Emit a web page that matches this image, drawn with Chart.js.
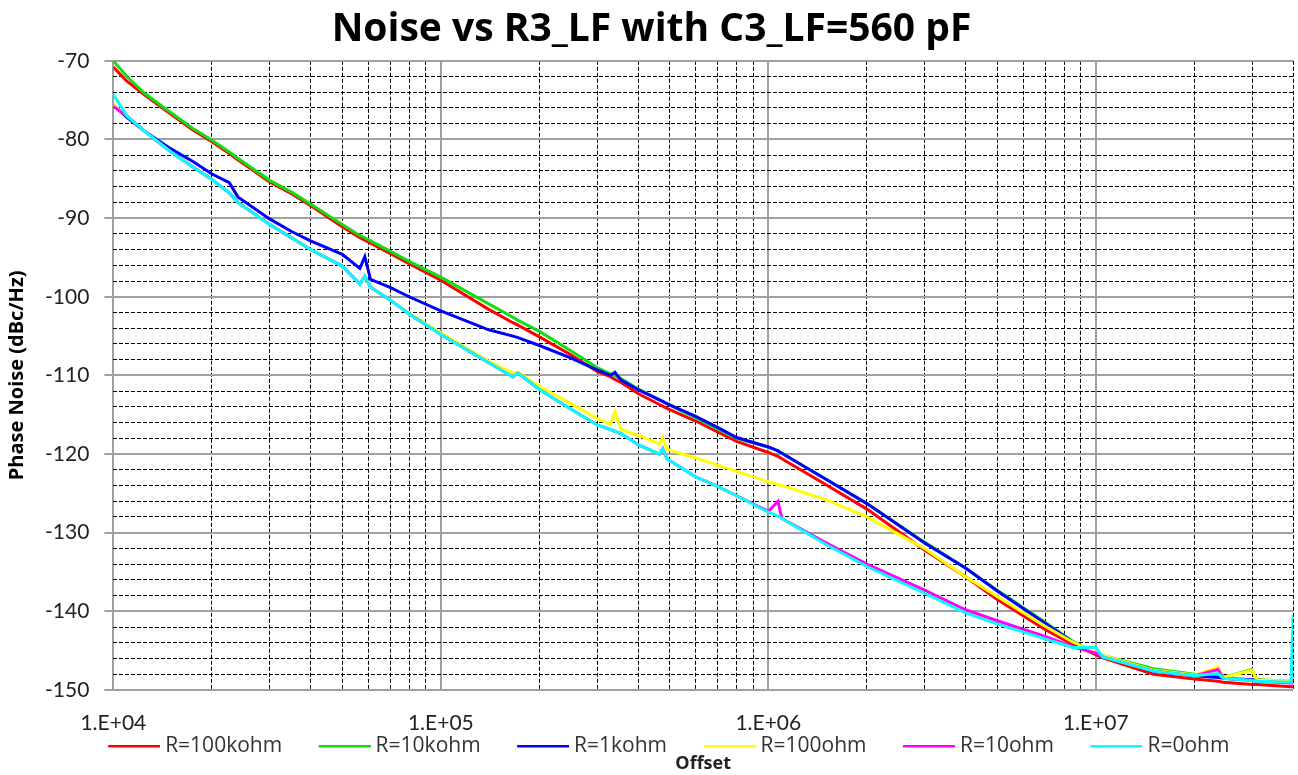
<!DOCTYPE html>
<html>
<head>
<meta charset="utf-8">
<title>Noise vs R3_LF</title>
<script src="https://cdn.jsdelivr.net/npm/chart.js@4.4.1/dist/chart.umd.min.js"></script>
<style>
  html, body { margin: 0; padding: 0; background: #fff; }
  #wrap { width: 1298px; height: 775px; }
</style>
</head>
<body>
<div id="wrap"><canvas id="noiseChart"></canvas></div>
<script>
// offset frequencies (Hz), shared by all traces
const offsets = [
  1e4, 1.1e4, 1.25e4, 1.5e4, 1.75e4, 2e4, 2.26e4, 2.4e4, 3e4, 3.5e4,
  4e4, 5e4, 5.66e4, 5.86e4, 6.1e4, 7e4, 8e4, 1e5, 1.4e5, 1.66e5,
  1.72e5, 2e5, 2.5e5, 3e5, 3.3e5, 3.4e5, 3.55e5, 4e5, 4.65e5, 4.76e5,
  4.9e5, 6e5, 7e5, 8e5, 1e6, 1.07e6, 1.1e6, 1.5e6, 2e6, 3e6,
  4e6, 5e6, 7e6, 8.5e6, 1e7, 1.05e7, 1.5e7, 2e7, 2.36e7, 2.45e7,
  3e7, 3.1e7, 3.95e7, 4e7
];

// phase noise (dBc/Hz)
const r100k = [
  -70.8, -72.6, -74.4, -76.8, -78.8, -80.3, -81.8, -82.6, -85.4, -86.9,
  -88.4, -91.1, -92.5, -92.8, -93.2, -94.5, -95.8, -97.9, -101.6, -103.3,
  -103.6, -105.1, -107.4, -109.5, -110.2, -110.5, -110.9, -112.3, -113.7, -113.9,
  -114.2, -115.8, -117.2, -118.4, -119.8, -120.3, -120.6, -123.9, -127.0, -132.2,
  -135.6, -138.5, -142.3, -144.2, -145.5, -145.9, -148.0, -148.6, -148.9, -149.0,
  -149.3, -149.3, -149.6, -149.6
];
const r10k = [
  -70.0, -72.0, -74.2, -76.6, -78.6, -80.1, -81.6, -82.4, -85.2, -86.7,
  -88.2, -90.8, -92.2, -92.5, -92.9, -94.2, -95.5, -97.5, -100.9, -102.6,
  -103.0, -104.4, -106.9, -109.0, -109.8, -110.0, -110.4, -111.7, -113.1, -113.3,
  -113.6, -115.4, -116.8, -118.0, -119.1, -119.6, -119.9, -123.2, -126.3, -131.2,
  -134.5, -137.3, -141.4, -143.8, -145.3, -145.6, -147.3, -148.0, -148.3, -148.4,
  -147.4, -148.7, -148.9, -148.9
];
const r1k = [
  -75.6, -77.2, -79.0, -81.2, -82.8, -84.4, -85.5, -87.3, -90.1, -91.7,
  -92.9, -94.6, -96.4, -94.9, -97.8, -98.8, -100.0, -101.8, -104.2, -105.0,
  -105.2, -106.2, -107.8, -109.3, -110.0, -109.6, -110.6, -111.8, -113.1, -113.3,
  -113.6, -115.2, -116.6, -117.9, -119.1, -119.6, -119.9, -123.2, -126.3, -131.3,
  -134.5, -137.4, -141.5, -143.9, -145.3, -145.7, -147.6, -148.2, -148.4, -148.5,
  -148.7, -148.7, -149.0, -149.0
];
const r100 = [
  -75.6, -77.0, -79.0, -81.6, -83.5, -85.1, -86.8, -88.0, -90.8, -92.5,
  -94.0, -96.1, -98.4, -97.4, -98.8, -100.4, -102.1, -104.6, -108.2, -109.7,
  -109.6, -111.4, -113.6, -115.5, -116.2, -114.6, -116.9, -117.6, -118.7, -117.9,
  -119.4, -120.5, -121.4, -122.2, -123.5, -123.9, -124.0, -125.8, -128.0, -132.0,
  -135.6, -138.1, -141.9, -143.9, -145.2, -145.6, -147.5, -148.1, -147.1, -148.4,
  -147.5, -148.7, -148.9, -148.9
];
const r10 = [
  -75.8, -77.0, -79.0, -81.6, -83.5, -85.1, -86.8, -88.0, -90.8, -92.5,
  -94.0, -96.1, -98.4, -97.4, -98.8, -100.4, -102.2, -104.8, -108.4, -110.2,
  -109.7, -111.8, -114.3, -116.3, -116.9, -117.1, -117.4, -118.8, -120.0, -119.3,
  -120.6, -122.9, -124.1, -125.3, -127.3, -126.0, -128.2, -131.3, -134.0, -137.3,
  -139.8, -141.2, -143.2, -144.5, -145.3, -145.8, -147.6, -148.2, -147.4, -148.5,
  -148.8, -148.9, -149.1, -149.1
];
const r0 = [
  -74.3, -77.0, -79.0, -81.6, -83.5, -85.1, -86.8, -88.0, -90.8, -92.5,
  -94.0, -96.1, -98.4, -97.4, -98.8, -100.4, -102.2, -104.8, -108.4, -110.2,
  -109.7, -111.8, -114.3, -116.3, -116.9, -117.1, -117.4, -118.8, -120.0, -119.3,
  -120.6, -122.9, -124.1, -125.3, -127.4, -127.9, -128.2, -131.5, -134.3, -137.7,
  -140.2, -141.6, -143.5, -144.6, -144.6, -145.8, -147.6, -148.2, -147.9, -148.5,
  -148.8, -148.9, -149.0, -140.5
];

const seriesNames = ['R=100kohm', 'R=10kohm', 'R=1kohm', 'R=100ohm', 'R=10ohm', 'R=0ohm'];
const seriesValues = [r100k, r10k, r1k, r100, r10, r0];
const seriesColors = ['#ff0000', '#11dd11', '#0000ff', '#ffff00', '#ff00ff', '#00ffff'];

// axis ticks
const xDecades = [1e4, 1e5, 1e6, 1e7];
const xTickLabels = ['1.E+04', '1.E+05', '1.E+06', '1.E+07'];
const xMax = 4e7;
const yMin = -150;
const yMax = -70;

const TICK_FONT = 'Lato, "Open Sans", sans-serif';
const TEXT_FONT = '"Open Sans", Lato, sans-serif';

// legend: 52px line sample, wide gap before it, small gap after it
const LEGEND_SLOT = 81;
const LEGEND_LINE = 52;

function isDecade(v) {
    const l = Math.log10(v);
    return Math.abs(l - Math.round(l)) < 1e-9;
}

function legendSwatch(color) {
    const c = document.createElement('canvas');
    c.width = LEGEND_SLOT + 11;
    c.height = 4;
    const g = c.getContext('2d');
    g.fillStyle = color;
    g.fillRect(c.width - LEGEND_LINE, 0, LEGEND_LINE, 3);
    return c;
}
const swatches = seriesColors.map(legendSwatch);

// grid positions for the log axis: 1..9 of every decade
const xGrid = [];
xDecades.forEach(d => {
    for (let m = 1; m <= 9; m++) {
        if (d * m <= xMax) xGrid.push(d * m);
    }
});

const datasets = seriesNames.map((name, i) => ({
    label: name,
    data: offsets.map((f, j) => ({ x: f, y: seriesValues[i][j] })),
    borderColor: seriesColors[i],
    backgroundColor: seriesColors[i],
    borderWidth: 3,
    pointRadius: 0,
    tension: 0,
    fill: false,
    order: seriesNames.length - i
}));

const ctx = document.getElementById('noiseChart');

new Chart(ctx, {
    type: 'line',
    data: { datasets: datasets },
    options: {
        responsive: true,
        maintainAspectRatio: false,
        animation: false,
        layout: { padding: { left: 5, right: 0, top: 0, bottom: 0 } },
        plugins: {
            title: {
                display: true,
                text: 'Noise vs R3_LF with C3_LF=560 pF',
                color: '#000',
                font: { family: TEXT_FONT, size: 39, weight: 'bold' },
                padding: { top: 6, bottom: 8 }
            },
            subtitle: {
                display: true,
                position: 'bottom',
                fullSize: false,
                text: 'Offset',
                color: '#222',
                font: { family: TEXT_FONT, size: 18, weight: 'bold' },
                padding: { top: -13.6, bottom: 0 }
            },
            legend: {
                position: 'bottom',
                labels: {
                    usePointStyle: true,
                    pointStyleWidth: LEGEND_SLOT,
                    padding: 2,
                    color: '#333',
                    font: { family: TEXT_FONT, size: 21 },
                    sort: (a, b) => a.datasetIndex - b.datasetIndex,
                    generateLabels: chart => {
                        const items = Chart.defaults.plugins.legend.labels.generateLabels(chart);
                        items.forEach(it => {
                            it.lineWidth = 0;
                            it.pointStyle = swatches[it.datasetIndex];
                        });
                        return items;
                    }
                }
            },
            tooltip: { enabled: false }
        },
        scales: {
            x: {
                type: 'logarithmic',
                min: xDecades[0],
                max: xMax,
                afterBuildTicks: scale => {
                    scale.ticks = xGrid.map(v => ({ value: v, major: isDecade(v) }));
                },
                afterFit: scale => { scale.height = 44; },
                ticks: {
                    autoSkip: false,
                    maxRotation: 0,
                    padding: 5,
                    color: '#222',
                    font: { family: TICK_FONT, size: 21, lineHeight: 2.667 },
                    callback: value => {
                        const k = xDecades.indexOf(value);
                        return k >= 0 ? xTickLabels[k] : '';
                    }
                },
                grid: {
                    drawTicks: false,
                    color: c => (c.tick && isDecade(c.tick.value)) ? '#a0a0a0' : '#000',
                    lineWidth: c => (c.tick && isDecade(c.tick.value)) ? 2 : 1
                },
                border: {
                    display: false,
                    dash: c => (c.tick && isDecade(c.tick.value)) ? [] : [4, 2]
                }
            },
            y: {
                min: yMin,
                max: yMax,
                ticks: {
                    stepSize: 2,
                    autoSkip: false,
                    padding: 15,
                    color: '#222',
                    font: { family: TICK_FONT, size: 21 },
                    callback: value => (value % 10 === 0 ? value : '')
                },
                grid: {
                    tickLength: 9,
                    color: c => (c.tick && c.tick.value % 10 === 0) ? '#a0a0a0' : '#000',
                    tickColor: c => (c.tick && c.tick.value % 10 === 0) ? '#a0a0a0' : 'rgba(0,0,0,0)',
                    lineWidth: c => (c.tick && c.tick.value % 10 === 0) ? 2 : 1
                },
                border: {
                    display: false,
                    dash: c => (c.tick && c.tick.value % 10 === 0) ? [] : [4, 2]
                },
                title: {
                    display: true,
                    text: 'Phase Noise (dBc/Hz)',
                    color: '#000',
                    font: { family: TEXT_FONT, size: 20, weight: 'bold' },
                    padding: { top: 0, bottom: 1 }
                }
            }
        }
    }
});
</script>
</body>
</html>
